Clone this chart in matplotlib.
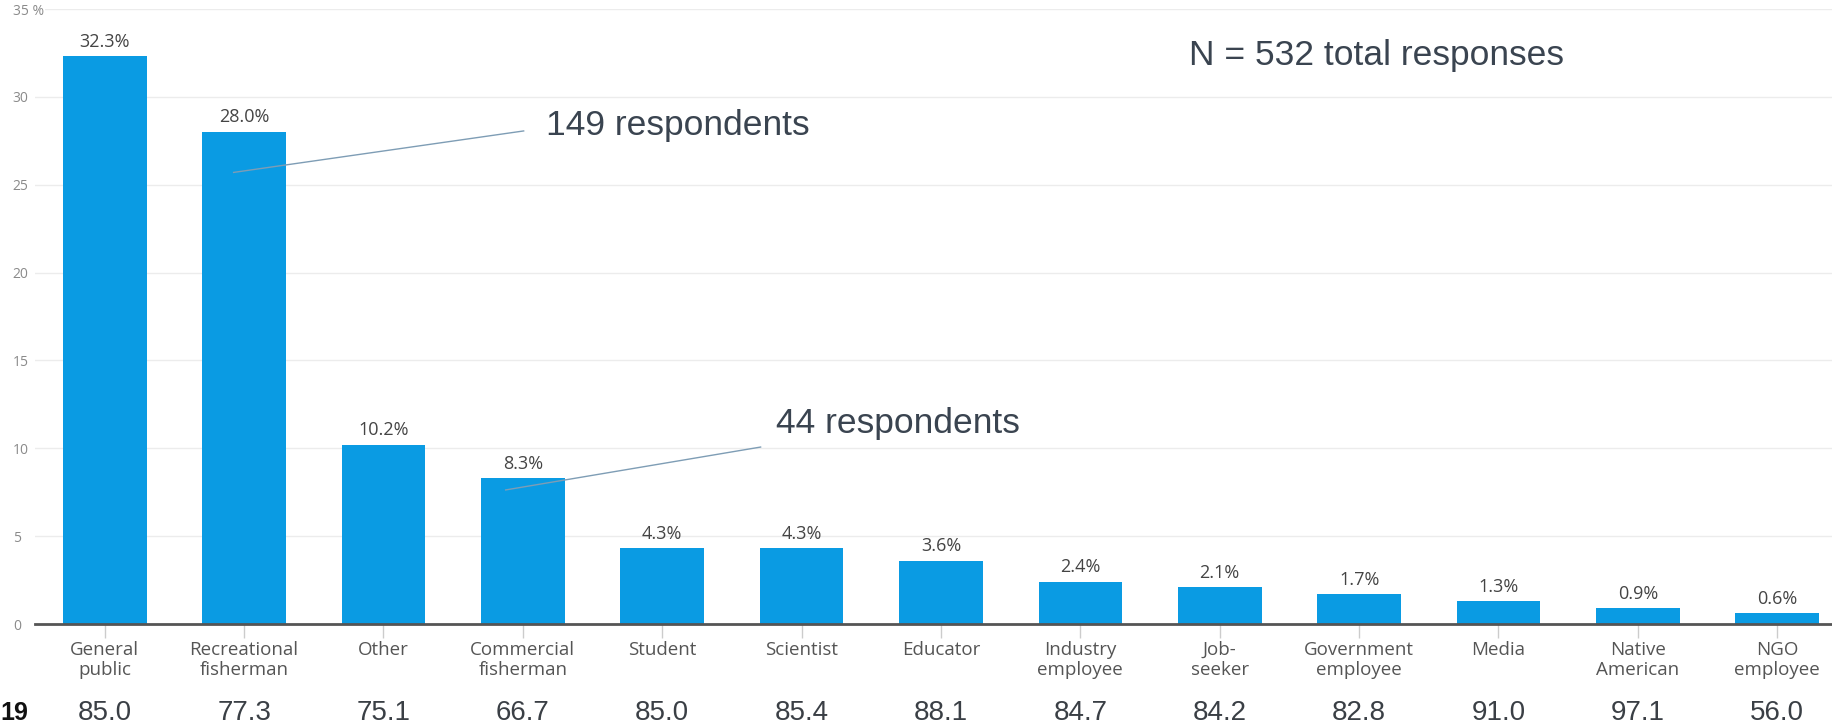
import numpy as np
import matplotlib
matplotlib.use('Agg')
import matplotlib.pyplot as plt
from matplotlib.transforms import blended_transform_factory

categories = ['General\npublic', 'Recreational\nfisherman', 'Other', 'Commercial\nfisherman',
              'Student', 'Scientist', 'Educator', 'Industry\nemployee', 'Job-\nseeker',
              'Government\nemployee', 'Media', 'Native\nAmerican', 'NGO\nemployee']
shares = [32.3, 28.0, 10.2, 8.3, 4.3, 4.3, 3.6, 2.4, 2.1, 1.7, 1.3, 0.9, 0.6]
scores_2019 = [85.0, 77.3, 75.1, 66.7, 85.0, 85.4, 88.1, 84.7, 84.2, 82.8, 91.0, 97.1, 56.0]
yticks = [0, 5, 10, 15, 20, 25, 30, 35]
ytick_labels = ['0', '5', '10', '15', '20', '25', '30', '35 %']

W, H = 1833, 726
fig = plt.figure(figsize=(W / 100, H / 100), dpi=100)
ax = fig.add_axes([35 / W, 1 - 624 / H, 1 - 35 / W, (624 - 9) / H])

ui_font = 'Open Sans'
ann_font = 'Liberation Sans'
blue = '#0a9be3'

x = np.arange(len(categories))
ax.bar(x, shares, width=0.6, color=blue, zorder=2)

for xi, v in zip(x, shares):
    ax.annotate('%.1f%%' % v, (xi, v), xytext=(0, 4), textcoords='offset points',
                ha='center', va='bottom', fontsize=13, color='#444444', family=ui_font)

ax.set_xlim(-0.5, 12.4)
ax.set_ylim(0, 35)

ax.set_yticks(yticks)
ax.set_yticklabels(ytick_labels)
for lab in ax.get_yticklabels():
    lab.set_horizontalalignment('left')
    lab.set_family(ui_font)
    lab.set_fontsize(10)
    lab.set_color('#8a8a8a')
ax.get_yticklabels()[-1].set_bbox(dict(facecolor='white', edgecolor='none', pad=1))
ax.tick_params(axis='y', length=0, pad=16)

ax.set_xticks(x)
ax.set_xticklabels(categories, family=ui_font, fontsize=13.5, color='#555555',
                   linespacing=1.2)
ax.tick_params(axis='x', length=10, width=1, color='#cccccc', pad=2)

ax.grid(axis='y', color='#ececec', linewidth=1, zorder=0)
for side in ['top', 'right', 'left']:
    ax.spines[side].set_visible(False)
ax.spines['bottom'].set_color('#555555')
ax.spines['bottom'].set_linewidth(2)
ax.spines['bottom'].set_zorder(3)

# annotations
ann_color = '#3a4450'
line_color = '#7e9db5'
ax.plot([0.925, 3.006], [25.7, 28.06], color=line_color, linewidth=1, zorder=3)
ax.plot([2.877, 4.706], [7.63, 10.07], color=line_color, linewidth=1, zorder=3)
ax.text(3.164, 27.83, '149 respondents', family=ann_font, fontsize=25.5,
        color=ann_color, ha='left', va='baseline')
ax.text(4.813, 10.87, '44 respondents', family=ann_font, fontsize=25.5,
        color=ann_color, ha='left', va='baseline')
ax.text(7.776, 31.8, 'N = 532 total responses', family=ann_font, fontsize=25.5,
        color=ann_color, ha='left', va='baseline')

# 2019 score row under the category labels
trans = blended_transform_factory(ax.transData, fig.transFigure)
for xi, s in zip(x, scores_2019):
    ax.text(xi, 1 - 720 / H, '%.1f' % s, transform=trans, family=ann_font,
            fontsize=20, color='#3a3f45', ha='center', va='baseline', clip_on=False)
fig.text(0, 1 - 720 / H, '19', family=ann_font, fontsize=18, fontweight='bold',
         color='#111111', ha='left', va='baseline')

fig.savefig('out.png', dpi=100)
